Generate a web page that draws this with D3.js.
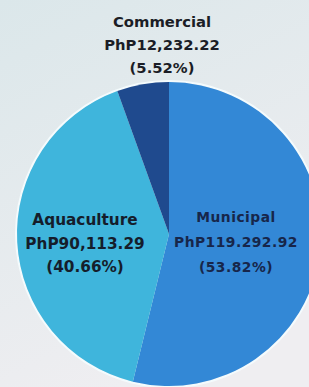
<!DOCTYPE html>
<html>
<head>
<meta charset="utf-8">
<script src="https://cdn.jsdelivr.net/npm/d3@7"></script>
<style>
  html, body { margin: 0; padding: 0; }
  svg { display: block; }
  text { font-family: "DejaVu Sans", sans-serif; font-weight: 700; }
</style>
</head>
<body>
<svg width="309" height="387"></svg>
<script>
const categories = ['Municipal', 'Aquaculture', 'Commercial'];
const values = [119292.92, 90113.29, 12232.22];
const amounts = ['PhP119.292.92', 'PhP90,113.29', 'PhP12,232.22'];
const percents = ['(53.82%)', '(40.66%)', '(5.52%)'];
const colors = ['#3388d6', '#3fb5dc', '#1f4a8e'];

const svg = d3.select('svg');
const width = +svg.attr('width');
const height = +svg.attr('height');

// background gradient
const defs = svg.append('defs');
const bg = defs.append('linearGradient')
  .attr('id', 'bg')
  .attr('x1', 0).attr('y1', 0)
  .attr('x2', 0.4).attr('y2', 1);
bg.append('stop').attr('offset', '0%').attr('stop-color', '#dbe7ea');
bg.append('stop').attr('offset', '100%').attr('stop-color', '#efeef1');
svg.append('rect')
  .attr('width', width)
  .attr('height', height)
  .attr('fill', 'url(#bg)');

const cx = 169, cy = 234, radius = 152;

const pie = d3.pie().sort(null).value((d) => d);
const arcs = pie(values);
const arc = d3.arc().innerRadius(0).outerRadius(radius);

const g = svg.append('g').attr('transform', `translate(${cx},${cy})`);

g.append('circle')
  .attr('r', radius + 1)
  .attr('fill', 'none')
  .attr('stroke', '#f4fbfd')
  .attr('stroke-width', 2);

g.selectAll('path.slice')
  .data(arcs)
  .enter()
    .append('path')
    .attr('class', 'slice')
    .attr('d', arc)
    .attr('fill', (d, i) => colors[i]);

// label placement: [x, y of first baseline, font size, line gap, letter spacing]
const labelLayout = [
  [67, -12, 13.8, 25, 0.5],
  [-84, -9, 15.3, 23.5, 0],
  [-7, -207, 14.8, 23, 0]
];
const textColors = ['#17264a', '#151d2b', '#1b1d26'];

categories.forEach((c, i) => {
  const [x, y, size, gap, ls] = labelLayout[i];
  const t = g.append('text')
    .attr('text-anchor', 'middle')
    .attr('fill', textColors[i])
    .attr('font-size', size)
    .attr('letter-spacing', ls);
  [c, amounts[i], percents[i]].forEach((line, j) => {
    t.append('tspan')
      .attr('x', x)
      .attr('y', y + j * gap)
      .text(line);
  });
});
</script>
</body>
</html>
